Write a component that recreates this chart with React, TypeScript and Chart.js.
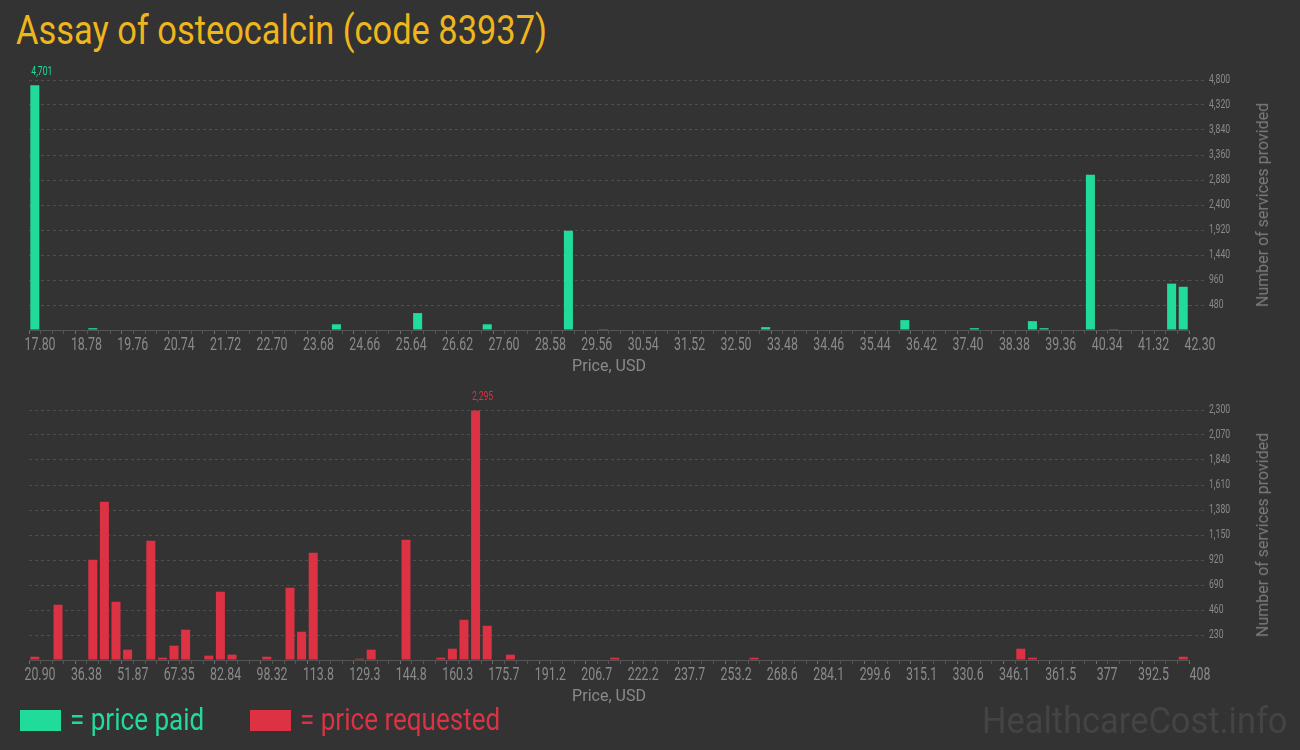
import React, { useEffect, useRef } from 'react';
import { Chart, registerables } from 'chart.js';

Chart.register(...registerables);

const BG = '#333333';
const GREEN = '#21db9a';
const RED = '#dc3243';
const TITLE_COLOR = '#efb61b';
const TICK_COLOR = '#8a8a8a';
const GRID_COLOR = '#4e4e4e';
const LABEL_FONT = 'Roboto, "Noto Sans", sans-serif';

// ---- price paid (top chart) ----
const paidTickLabels = [
  '17.80', '18.78', '19.76', '20.74', '21.72', '22.70', '23.68', '24.66', '25.64',
  '26.62', '27.60', '28.58', '29.56', '30.54', '31.52', '32.50', '33.48', '34.46',
  '35.44', '36.42', '37.40', '38.38', '39.36', '40.34', '41.32', '42.30',
];
const paidPrices = [
  17.923, 19.148, 24.293, 26.008, 27.478, 29.193, 29.928, 33.358,
  36.298, 37.768, 38.993, 39.238, 40.218, 40.708, 41.933, 42.178,
];
const paidCounts = [
  4701, 35, 110, 325, 110, 1905, 15, 55,
  190, 35, 170, 35, 2980, 15, 890, 830,
];
const paidAxisMax = 4800;
const paidAxisStep = 480;

// ---- price requested (bottom chart) ----
const requestedTickLabels = [
  '20.90', '36.38', '51.87', '67.35', '82.84', '98.32', '113.8', '129.3', '144.8',
  '160.3', '175.7', '191.2', '206.7', '222.2', '237.7', '253.2', '268.6', '284.1',
  '299.6', '315.1', '330.6', '346.1', '361.5', '377', '392.5', '408',
];
const requestedPrices = [
  22.84, 30.58, 42.19, 46.06, 49.93, 53.8, 61.55, 65.42, 69.29, 73.16,
  80.9, 84.77, 88.64, 100.26, 108.0, 111.87, 115.74, 131.22, 135.09, 146.71,
  158.32, 162.19, 166.06, 169.93, 173.8, 181.55, 216.39, 262.84, 351.87, 355.74,
  406.06,
];
const requestedCounts = [
  30, 508, 922, 1455, 536, 95, 1097, 21, 132, 279,
  40, 628, 49, 30, 665, 260, 986, 12, 95, 1106,
  21, 104, 370, 2295, 315, 49, 21, 21, 104, 21,
  30,
];
const requestedAxisMax = 2300;
const requestedAxisStep = 230;

const MINOR_PER_MAJOR = 4;

function tickPositions(labels: string[]): number[] {
  const majors = labels.map(Number);
  const out: number[] = [];
  for (let i = 0; i < majors.length; i++) {
    out.push(majors[i]);
    if (i < majors.length - 1) {
      for (let k = 1; k < MINOR_PER_MAJOR; k++) {
        out.push(majors[i] + ((majors[i + 1] - majors[i]) * k) / MINOR_PER_MAJOR);
      }
    }
  }
  return out;
}

// draws text squeezed horizontally (the reference uses a condensed face)
function drawCondensed(
  ctx: CanvasRenderingContext2D,
  text: string,
  x: number,
  y: number,
  size: number,
  squeeze: number,
  align: CanvasTextAlign,
  color: string
) {
  ctx.save();
  ctx.translate(x, y);
  ctx.scale(squeeze, 1);
  ctx.font = `${size}px ${LABEL_FONT}`;
  ctx.fillStyle = color;
  ctx.textAlign = align;
  ctx.textBaseline = 'middle';
  ctx.fillText(text, 0, 0);
  ctx.restore();
}

type HistProps = {
  top: number;
  height: number;
  padTop: number;
  prices: number[];
  counts: number[];
  tickLabels: string[];
  axisMax: number;
  axisStep: number;
  color: string;
};

function HistChart(props: HistProps) {
  const ref = useRef<HTMLCanvasElement | null>(null);
  useEffect(() => {
    if (!ref.current) return;
    const labels = props.tickLabels;
    const positions = tickPositions(labels);

    const labelPlugin = {
      id: 'condensedLabels',
      afterDraw(chart: any) {
        const ctx = chart.ctx as CanvasRenderingContext2D;
        const xs = chart.scales.x;
        const ys = chart.scales.y;
        const area = chart.chartArea;
        // x tick labels
        labels.forEach((lab) => {
          const px = xs.getPixelForValue(Number(lab));
          drawCondensed(ctx, lab, px + 11, area.bottom + 15, 19, 0.65, 'center', TICK_COLOR);
        });
        // y tick labels
        ys.ticks.forEach((t: any) => {
          if (t.value === 0) return;
          const py = ys.getPixelForValue(t.value);
          drawCondensed(
            ctx,
            Number(t.value).toLocaleString('en-US'),
            area.right + 20,
            py,
            12.5,
            0.69,
            'left',
            TICK_COLOR
          );
        });
        // value label on the tallest bar
        const ds = chart.data.datasets[0];
        const data = ds.data as { x: number; y: number }[];
        let mi = 0;
        data.forEach((d, i) => {
          if (d.y > data[mi].y) mi = i;
        });
        const el = chart.getDatasetMeta(0).data[mi];
        if (el) {
          drawCondensed(
            ctx,
            data[mi].y.toLocaleString('en-US'),
            el.x - el.width / 2 + 1,
            el.y - 13.5,
            12.5,
            0.69,
            'left',
            props.color
          );
        }
      },
    };

    const chart = new Chart(ref.current, {
      type: 'bar',
      data: {
        datasets: [
          {
            data: props.prices.map((p, i) => ({ x: p, y: props.counts[i] })),
            backgroundColor: props.color,
            borderWidth: 0,
            barPercentage: 0.78,
            categoryPercentage: 1,
          } as any,
        ],
      },
      options: {
        responsive: false,
        animation: false,
        devicePixelRatio: 1,
        layout: { padding: { left: 29, top: props.padTop, right: 0, bottom: 0 } },
        plugins: { legend: { display: false }, tooltip: { enabled: false } },
        scales: {
          x: {
            type: 'linear',
            min: Number(labels[0]),
            max: Number(labels[labels.length - 1]),
            offset: false,
            afterBuildTicks: (s: any) => {
              s.ticks = positions.map((v) => ({ value: v }));
            },
            afterFit: (s: any) => {
              s.height = 50;
            },
            grid: {
              display: true,
              drawOnChartArea: false,
              drawTicks: true,
              tickLength: 4,
              offset: false,
              color: '#606060',
              tickColor: (c: any) => (c.index % MINOR_PER_MAJOR === 0 ? '#707070' : '#555555'),
            },
            border: { display: true, color: '#555555', width: 1 },
            ticks: { display: false, autoSkip: false, maxRotation: 0, minRotation: 0 },
            title: {
              display: true,
              text: 'Price, USD',
              color: TICK_COLOR,
              font: { family: 'Roboto', size: 16 },
              padding: { top: 0, bottom: 3 },
            },
          } as any,
          y: {
            position: 'right',
            min: 0,
            max: props.axisMax,
            afterFit: (s: any) => {
              s.width = 111;
            },
            grid: {
              drawTicks: true,
              tickLength: 16,
              tickBorderDash: [3, 3],
              color: (c: any) => (c.tick && c.tick.value === 0 ? 'rgba(0,0,0,0)' : GRID_COLOR),
              tickColor: (c: any) => (c.tick && c.tick.value === 0 ? 'rgba(0,0,0,0)' : GRID_COLOR),
            },
            border: { display: false, dash: [3, 3] },
            ticks: { display: false, stepSize: props.axisStep },
          } as any,
        },
      },
      plugins: [labelPlugin],
    });
    return () => chart.destroy();
  }, []);
  return (
    <canvas
      ref={ref}
      width={1300}
      height={props.height}
      style={{ position: 'absolute', left: 0, top: props.top, width: 1300, height: props.height }}
    />
  );
}

const axisTitleStyle = (cy: number): React.CSSProperties => ({
  position: 'absolute',
  left: 1263,
  top: cy,
  transform: 'translate(-50%, -50%) rotate(-90deg)',
  fontFamily: 'Roboto',
  fontSize: 16,
  lineHeight: '18px',
  color: '#7a7a7a',
  whiteSpace: 'nowrap',
});

export default function App() {
  return (
    <div
      style={{
        position: 'absolute',
        left: 0,
        top: 0,
        width: 1300,
        height: 750,
        background: BG,
        overflow: 'hidden',
      }}
    >
      <div
        style={{
          position: 'absolute',
          left: 16,
          top: 11,
          fontFamily: 'Roboto',
          fontSize: 40,
          lineHeight: '40px',
          color: TITLE_COLOR,
          whiteSpace: 'nowrap',
          transform: 'scaleX(0.86)',
          transformOrigin: 'left top',
        }}
      >
        Assay of osteocalcin (code 83937)
      </div>

      <HistChart
        top={60}
        height={320}
        padTop={20}
        prices={paidPrices}
        counts={paidCounts}
        tickLabels={paidTickLabels}
        axisMax={paidAxisMax}
        axisStep={paidAxisStep}
        color={GREEN}
      />
      <div style={axisTitleStyle(205)}>Number of services provided</div>

      <HistChart
        top={380}
        height={330}
        padTop={30}
        prices={requestedPrices}
        counts={requestedCounts}
        tickLabels={requestedTickLabels}
        axisMax={requestedAxisMax}
        axisStep={requestedAxisStep}
        color={RED}
      />
      <div style={axisTitleStyle(535)}>Number of services provided</div>

      <div style={{ position: 'absolute', left: 20, top: 710, width: 41, height: 21, background: GREEN }} />
      <div
        style={{
          position: 'absolute',
          left: 70,
          top: 704,
          fontFamily: 'Roboto',
          fontSize: 31,
          lineHeight: '31px',
          color: GREEN,
          whiteSpace: 'nowrap',
          transform: 'scaleX(0.84)',
          transformOrigin: 'left top',
        }}
      >
        = price paid
      </div>
      <div style={{ position: 'absolute', left: 250, top: 710, width: 41, height: 21, background: RED }} />
      <div
        style={{
          position: 'absolute',
          left: 300,
          top: 704,
          fontFamily: 'Roboto',
          fontSize: 31,
          lineHeight: '31px',
          color: RED,
          whiteSpace: 'nowrap',
          transform: 'scaleX(0.84)',
          transformOrigin: 'left top',
        }}
      >
        = price requested
      </div>

      <div
        style={{
          position: 'absolute',
          right: 13,
          top: 702,
          fontFamily: 'Roboto',
          fontSize: 37,
          lineHeight: '37px',
          color: '#444444',
          whiteSpace: 'nowrap',
          transform: 'scaleX(0.93)',
          transformOrigin: 'right top',
        }}
      >
        HealthcareCost.info
      </div>
    </div>
  );
}
